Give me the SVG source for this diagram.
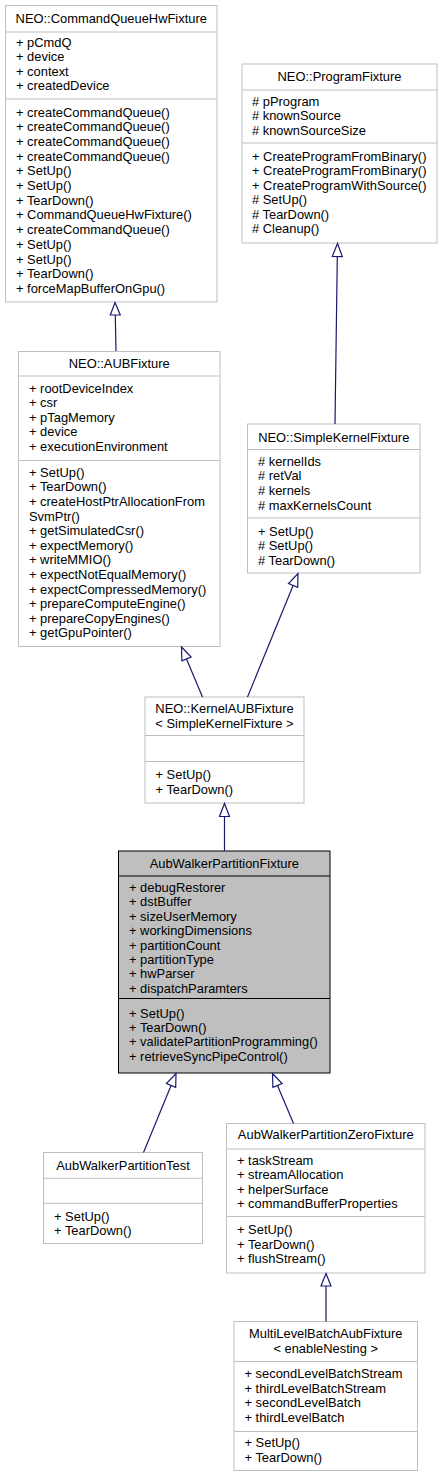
<svg xmlns="http://www.w3.org/2000/svg" width="442" height="1477" viewBox="0 0 442 1477">
<style>
.box{fill:#ffffff;stroke:#bfbfbf;stroke-width:1}
.main{fill:#bfbfbf;stroke:#000000;stroke-width:1}
.sep{stroke:#bfbfbf;stroke-width:1}
.msep{stroke:#000000;stroke-width:1}
text{font-family:"Liberation Sans",Arial,sans-serif;font-size:12.9px;fill:#000000}
.c{text-anchor:middle}
.edge{fill:none;stroke:#191970;stroke-width:1.2}
.head{fill:#ffffff;stroke:#191970;stroke-width:1.2}
</style>
<rect width="442" height="1477" fill="#ffffff"/>

<g id="CommandQueueHwFixture">
<rect class="box" x="5.5" y="5.5" width="211.5" height="296.5"/>
<line class="sep" x1="5.5" y1="32" x2="217" y2="32"/>
<line class="sep" x1="5.5" y1="99" x2="217" y2="99"/>
<text class="c" x="111.25" y="22.5">NEO::CommandQueueHwFixture</text>
<text x="16" y="47">+ pCmdQ</text>
<text x="16" y="61.4">+ device</text>
<text x="16" y="75.8">+ context</text>
<text x="16" y="90.2">+ createdDevice</text>
<text x="16" y="116.5">+ createCommandQueue()</text>
<text x="16" y="131.2">+ createCommandQueue()</text>
<text x="16" y="145.9">+ createCommandQueue()</text>
<text x="16" y="160.6">+ createCommandQueue()</text>
<text x="16" y="175.3">+ SetUp()</text>
<text x="16" y="190">+ SetUp()</text>
<text x="16" y="204.7">+ TearDown()</text>
<text x="16" y="219.4">+ CommandQueueHwFixture()</text>
<text x="16" y="234.1">+ createCommandQueue()</text>
<text x="16" y="248.8">+ SetUp()</text>
<text x="16" y="263.5">+ SetUp()</text>
<text x="16" y="278.2">+ TearDown()</text>
<text x="16" y="292.9">+ forceMapBufferOnGpu()</text>
</g>

<g id="ProgramFixture">
<rect class="box" x="242" y="64" width="195" height="179"/>
<line class="sep" x1="242" y1="90" x2="437" y2="90"/>
<line class="sep" x1="242" y1="143" x2="437" y2="143"/>
<text class="c" x="339.5" y="81">NEO::ProgramFixture</text>
<text x="252" y="105.7"># pProgram</text>
<text x="252" y="120.1"># knownSource</text>
<text x="252" y="134.5"># knownSourceSize</text>
<text x="252" y="160.5">+ CreateProgramFromBinary()</text>
<text x="252" y="175">+ CreateProgramFromBinary()</text>
<text x="252" y="189.5">+ CreateProgramWithSource()</text>
<text x="252" y="204"># SetUp()</text>
<text x="252" y="218.5"># TearDown()</text>
<text x="252" y="233"># Cleanup()</text>
</g>

<g id="AUBFixture">
<rect class="box" x="18.5" y="351.5" width="201.5" height="295"/>
<line class="sep" x1="18.5" y1="376" x2="220" y2="376"/>
<line class="sep" x1="18.5" y1="460.5" x2="220" y2="460.5"/>
<text class="c" x="119.25" y="367.5">NEO::AUBFixture</text>
<text x="29" y="393">+ rootDeviceIndex</text>
<text x="29" y="407.4">+ csr</text>
<text x="29" y="421.8">+ pTagMemory</text>
<text x="29" y="436.2">+ device</text>
<text x="29" y="450.6">+ executionEnvironment</text>
<text x="29" y="476.7">+ SetUp()</text>
<text x="29" y="491.3">+ TearDown()</text>
<text x="29" y="505.9">+ createHostPtrAllocationFrom</text>
<text x="29" y="520.5">SvmPtr()</text>
<text x="29" y="535.1">+ getSimulatedCsr()</text>
<text x="29" y="549.7">+ expectMemory()</text>
<text x="29" y="564.3">+ writeMMIO()</text>
<text x="29" y="578.9">+ expectNotEqualMemory()</text>
<text x="29" y="593.5">+ expectCompressedMemory()</text>
<text x="29" y="608.1">+ prepareComputeEngine()</text>
<text x="29" y="622.7">+ prepareCopyEngines()</text>
<text x="29" y="637.3">+ getGpuPointer()</text>
</g>

<g id="SimpleKernelFixture">
<rect class="box" x="247.5" y="424" width="172.5" height="149"/>
<line class="sep" x1="247.5" y1="449.5" x2="420" y2="449.5"/>
<line class="sep" x1="247.5" y1="518" x2="420" y2="518"/>
<text class="c" x="333.75" y="441.5">NEO::SimpleKernelFixture</text>
<text x="258" y="465.7"># kernelIds</text>
<text x="258" y="480.4"># retVal</text>
<text x="258" y="495.1"># kernels</text>
<text x="258" y="509.8"># maxKernelsCount</text>
<text x="258" y="535.5">+ SetUp()</text>
<text x="258" y="550.2"># SetUp()</text>
<text x="258" y="564.9"># TearDown()</text>
</g>

<g id="KernelAUBFixture">
<rect class="box" x="145" y="697" width="159" height="106"/>
<line class="sep" x1="145" y1="735.5" x2="304" y2="735.5"/>
<line class="sep" x1="145" y1="761.5" x2="304" y2="761.5"/>
<text class="c" x="224.5" y="712.5">NEO::KernelAUBFixture</text>
<text class="c" x="224.5" y="727.5">&lt; SimpleKernelFixture &gt;</text>
<text x="155.5" y="779">+ SetUp()</text>
<text x="155.5" y="793.5">+ TearDown()</text>
</g>

<g id="AubWalkerPartitionFixture">
<rect class="main" x="118.5" y="851" width="211.5" height="222"/>
<line class="msep" x1="118.5" y1="876" x2="330" y2="876"/>
<line class="msep" x1="118.5" y1="998.5" x2="330" y2="998.5"/>
<text class="c" x="224.25" y="867.5">AubWalkerPartitionFixture</text>
<text x="129" y="892">+ debugRestorer</text>
<text x="129" y="906.4">+ dstBuffer</text>
<text x="129" y="920.8">+ sizeUserMemory</text>
<text x="129" y="935.2">+ workingDimensions</text>
<text x="129" y="949.6">+ partitionCount</text>
<text x="129" y="964">+ partitionType</text>
<text x="129" y="978.4">+ hwParser</text>
<text x="129" y="992.8">+ dispatchParamters</text>
<text x="129" y="1017.5">+ SetUp()</text>
<text x="129" y="1031.9">+ TearDown()</text>
<text x="129" y="1046.3">+ validatePartitionProgramming()</text>
<text x="129" y="1060.7">+ retrieveSyncPipeControl()</text>
</g>

<g id="AubWalkerPartitionTest">
<rect class="box" x="43.5" y="1152.5" width="159" height="91"/>
<line class="sep" x1="43.5" y1="1178.3" x2="202.5" y2="1178.3"/>
<line class="sep" x1="43.5" y1="1203.3" x2="202.5" y2="1203.3"/>
<text class="c" x="123" y="1169.5">AubWalkerPartitionTest</text>
<text x="54" y="1220.5">+ SetUp()</text>
<text x="54" y="1235">+ TearDown()</text>
</g>

<g id="AubWalkerPartitionZeroFixture">
<rect class="box" x="226.5" y="1123.5" width="198.5" height="149.5"/>
<line class="sep" x1="226.5" y1="1149" x2="425" y2="1149"/>
<line class="sep" x1="226.5" y1="1216.5" x2="425" y2="1216.5"/>
<text class="c" x="325.75" y="1138.5">AubWalkerPartitionZeroFixture</text>
<text x="237" y="1164.5">+ taskStream</text>
<text x="237" y="1179">+ streamAllocation</text>
<text x="237" y="1193.5">+ helperSurface</text>
<text x="237" y="1208">+ commandBufferProperties</text>
<text x="237" y="1234">+ SetUp()</text>
<text x="237" y="1248.5">+ TearDown()</text>
<text x="237" y="1263">+ flushStream()</text>
</g>

<g id="MultiLevelBatchAubFixture">
<rect class="box" x="234" y="1321.5" width="183.5" height="149"/>
<line class="sep" x1="234" y1="1361.5" x2="417.5" y2="1361.5"/>
<line class="sep" x1="234" y1="1431.5" x2="417.5" y2="1431.5"/>
<text class="c" x="325.75" y="1338">MultiLevelBatchAubFixture</text>
<text class="c" x="325.75" y="1353">&lt; enableNesting &gt;</text>
<text x="244.5" y="1378">+ secondLevelBatchStream</text>
<text x="244.5" y="1392.5">+ thirdLevelBatchStream</text>
<text x="244.5" y="1407">+ secondLevelBatch</text>
<text x="244.5" y="1421.5">+ thirdLevelBatch</text>
<text x="244.5" y="1447">+ SetUp()</text>
<text x="244.5" y="1461.5">+ TearDown()</text>
</g>

<g id="connectors">
<path class="edge" d="M115.3,315 L116,351"/>
<polygon class="head" points="115,302.5 120.3,315 110.3,315"/>
<path class="edge" d="M337.3,256.5 L335,424"/>
<polygon class="head" points="337.5,243.5 342.3,256.6 332.3,256.4"/>
<path class="edge" d="M186.5,659 L202.5,697"/>
<polygon class="head" points="181.5,647 191.1,657.1 181.9,660.9"/>
<path class="edge" d="M293.1,585.5 L247.5,697"/>
<polygon class="head" points="298,573.5 297.7,587.4 288.5,583.6"/>
<path class="edge" d="M224.5,816.5 L224.5,851"/>
<polygon class="head" points="224.5,803.5 229.5,816.5 219.5,816.5"/>
<path class="edge" d="M171.1,1085.5 L143.5,1152.5"/>
<polygon class="head" points="176,1073.5 175.7,1087.4 166.4,1083.6"/>
<path class="edge" d="M277.5,1085.5 L293.5,1123.5"/>
<polygon class="head" points="272.5,1073.5 282.1,1083.6 272.9,1087.4"/>
<path class="edge" d="M326,1286 L326,1321.5"/>
<polygon class="head" points="326,1273.5 331,1286 321,1286"/>
</g>
</svg>
